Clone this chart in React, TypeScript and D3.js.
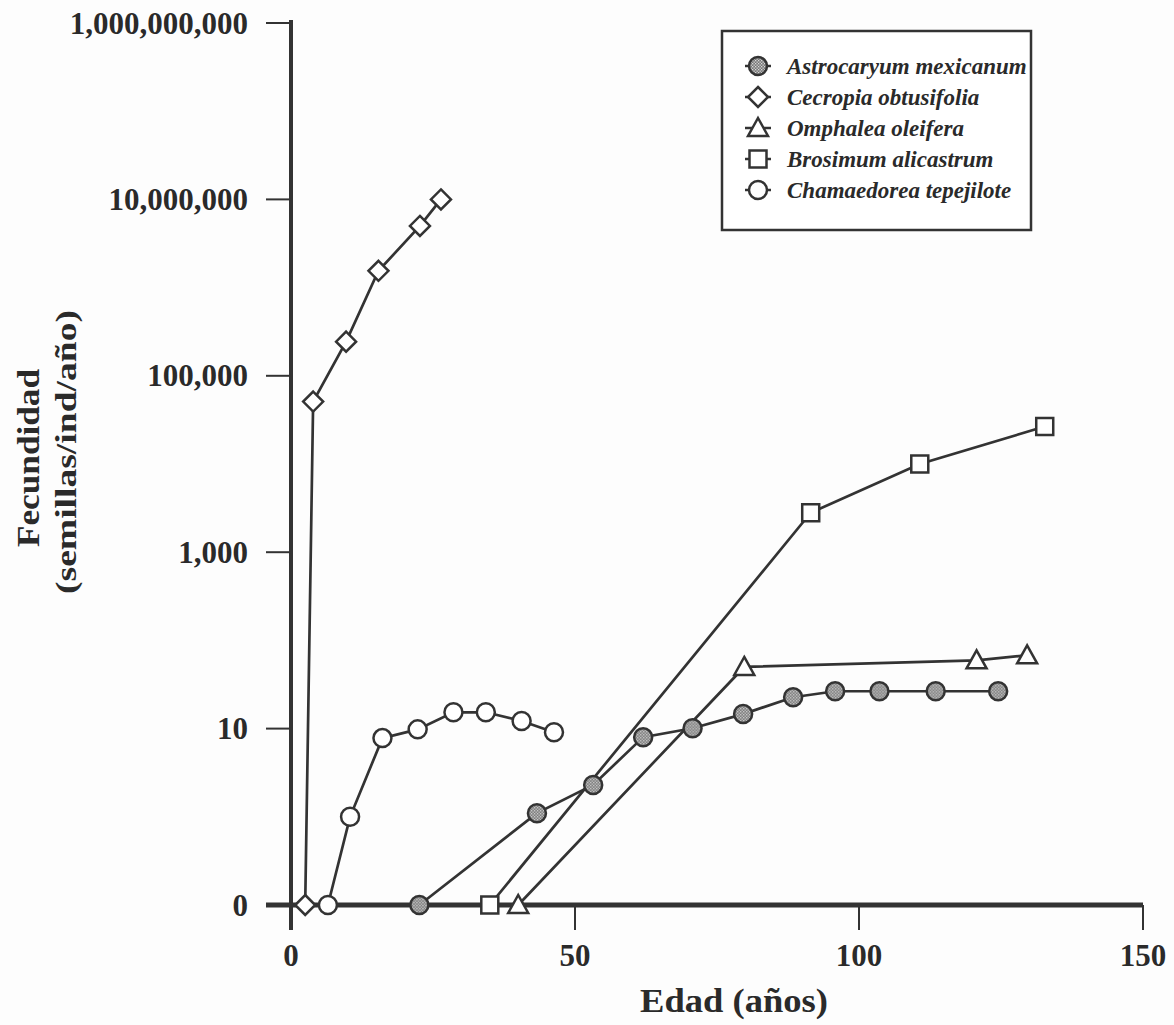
import React from "react";
import * as d3 from "d3";

// ---- Data ----
const yTickValues = [0.1, 10, 1000, 100000, 10000000, 1000000000];
const yTickLabels = ["0", "10", "1,000", "100,000", "10,000,000", "1,000,000,000"];
const xTickValues = [0, 50, 100, 150];

const astrocaryumAge = [22.6, 43.3, 53.2, 62.0, 70.7, 79.6, 88.4, 95.8, 103.6, 113.5, 124.5];
const astrocaryumFec = [0, 1.1, 2.3, 8.0, 10.1, 14.6, 22.7, 26.5, 26.5, 26.5, 26.5];

const cecropiaAge = [2.5, 3.9, 9.7, 15.4, 22.7, 26.4];
const cecropiaFec = [0, 51000, 244000, 1550000, 5000000, 10000000];

const omphaleaAge = [40.0, 79.8, 120.7, 129.6];
const omphaleaFec = [0, 50, 59.5, 67.8];

const brosimumAge = [35.0, 91.5, 110.7, 132.7];
const brosimumFec = [0, 2800, 10000, 26600];

const chamaedoreaAge = [6.5, 10.4, 16.1, 22.3, 28.6, 34.3, 40.6, 46.3];
const chamaedoreaFec = [0, 1.0, 7.8, 9.8, 15.3, 15.3, 12.2, 9.1];

const seriesNames = [
  "Astrocaryum mexicanum",
  "Cecropia obtusifolia",
  "Omphalea oleifera",
  "Brosimum alicastrum",
  "Chamaedorea tepejilote",
];
const seriesSymbols = ["stippleCircle", "diamond", "triangle", "square", "circle"];
const seriesAges = [astrocaryumAge, cecropiaAge, omphaleaAge, brosimumAge, chamaedoreaAge];
const seriesFec = [astrocaryumFec, cecropiaFec, omphaleaFec, brosimumFec, chamaedoreaFec];

const W = 1174;
const H = 1025;
const INK = "#333333";

const x = d3.scaleLinear().domain([0, 150]).range([291, 1143]);
const y = d3.scaleLog().domain([0.1, 1e9]).range([905, 23]);
const yVal = (v: number) => y(Math.max(v, 0.1));

function markerPath(kind: string): string {
  const p = d3.path();
  if (kind === "circle" || kind === "stippleCircle") {
    p.arc(0, 0, 9, 0, Math.PI * 2);
    p.closePath();
  } else if (kind === "diamond") {
    const r = 10;
    p.moveTo(0, -r);
    p.lineTo(r, 0);
    p.lineTo(0, r);
    p.lineTo(-r, 0);
    p.closePath();
  } else if (kind === "square") {
    const s = 8.5;
    p.rect(-s, -s, 2 * s, 2 * s);
  } else if (kind === "triangle") {
    p.moveTo(0, -10);
    p.lineTo(10, 8);
    p.lineTo(-10, 8);
    p.closePath();
  }
  return p.toString();
}

function Marker({ kind, cx, cy }: { kind: string; cx: number; cy: number }) {
  return (
    <path
      d={markerPath(kind)}
      transform={`translate(${cx},${cy})`}
      fill={kind === "stippleCircle" ? "url(#stipple)" : "#ffffff"}
      stroke={INK}
      strokeWidth={2.5}
    />
  );
}

export default function App() {
  const line = d3
    .line<[number, number]>()
    .x((d) => x(d[0]))
    .y((d) => yVal(d[1]));

  const serif = "'Liberation Serif', 'Times New Roman', serif";

  return (
    <svg
      width={W}
      height={H}
      viewBox={`0 0 ${W} ${H}`}
      style={{ position: "absolute", left: 0, top: 0, background: "#fdfdfd" }}
    >
      <defs>
        <pattern id="stipple" width="3" height="3" patternUnits="userSpaceOnUse">
          <rect width="3" height="3" fill="#777777" />
          <rect x="0" y="0" width="1.3" height="1.3" fill="#d8d8d8" />
          <rect x="1.5" y="1.5" width="1.3" height="1.3" fill="#d8d8d8" />
        </pattern>
      </defs>

      {/* Axes */}
      <line x1={291} x2={291} y1={20} y2={930} stroke={INK} strokeWidth={4} />
      <line x1={266} x2={x(150)} y1={905} y2={905} stroke={INK} strokeWidth={5} />
      {yTickValues.map((v, i) => (
        <g key={"yt" + i}>
          <line x1={266} x2={291} y1={y(v)} y2={y(v)} stroke={INK} strokeWidth={2} />
          <text
            x={248}
            y={y(v) + 10.5}
            textAnchor="end"
            fontFamily={serif}
            fontWeight="bold"
            fontSize={31}
            fill="#2a2a2a"
          >
            {yTickLabels[i]}
          </text>
        </g>
      ))}
      {xTickValues.map((v) => (
        <g key={"xt" + v}>
          <line x1={x(v)} x2={x(v)} y1={905} y2={930} stroke={INK} strokeWidth={2} />
          <text
            x={x(v)}
            y={966}
            textAnchor="middle"
            fontFamily={serif}
            fontWeight="bold"
            fontSize={31}
            fill="#2a2a2a"
          >
            {v}
          </text>
        </g>
      ))}

      {/* Axis titles */}
      <text
        x={734}
        y={1012}
        textAnchor="middle"
        fontFamily={serif}
        fontWeight="bold"
        fontSize={34}
        textLength={188}
        lengthAdjust="spacingAndGlyphs"
        fill="#2a2a2a"
      >
        Edad (años)
      </text>
      <text
        transform="translate(39,458) rotate(-90)"
        textAnchor="middle"
        fontFamily={serif}
        fontWeight="bold"
        fontSize={32}
        textLength={178}
        lengthAdjust="spacingAndGlyphs"
        fill="#2a2a2a"
      >
        Fecundidad
      </text>
      <text
        transform="translate(76,452) rotate(-90)"
        textAnchor="middle"
        fontFamily={serif}
        fontWeight="bold"
        fontSize={30}
        textLength={284}
        lengthAdjust="spacingAndGlyphs"
        fill="#2a2a2a"
      >
        (semillas/ind/año)
      </text>

      {/* Series lines */}
      {seriesNames.map((name, si) => (
        <path
          key={"l" + name}
          d={line(seriesAges[si].map((a, j) => [a, seriesFec[si][j]] as [number, number])) || ""}
          fill="none"
          stroke={INK}
          strokeWidth={2.7}
        />
      ))}
      {/* Series markers */}
      {seriesNames.map((name, si) => (
        <g key={"m" + name}>
          {seriesAges[si].map((a, j) => (
            <Marker key={j} kind={seriesSymbols[si]} cx={x(a)} cy={yVal(seriesFec[si][j])} />
          ))}
        </g>
      ))}

      {/* Legend */}
      <rect x={722} y={31} width={309} height={199} fill="#ffffff" stroke={INK} strokeWidth={2.5} />
      {seriesNames.map((name, i) => {
        const ly = 66 + i * 31;
        return (
          <g key={"lg" + name}>
            <line x1={745} x2={771} y1={ly} y2={ly} stroke={INK} strokeWidth={2.5} />
            <Marker kind={seriesSymbols[i]} cx={758} cy={ly} />
            <text
              x={787}
              y={ly + 7.5}
              fontFamily={serif}
              fontWeight="bold"
              fontStyle="italic"
              fontSize={23}
              fill="#2a2a2a"
            >
              {name}
            </text>
          </g>
        );
      })}
    </svg>
  );
}
